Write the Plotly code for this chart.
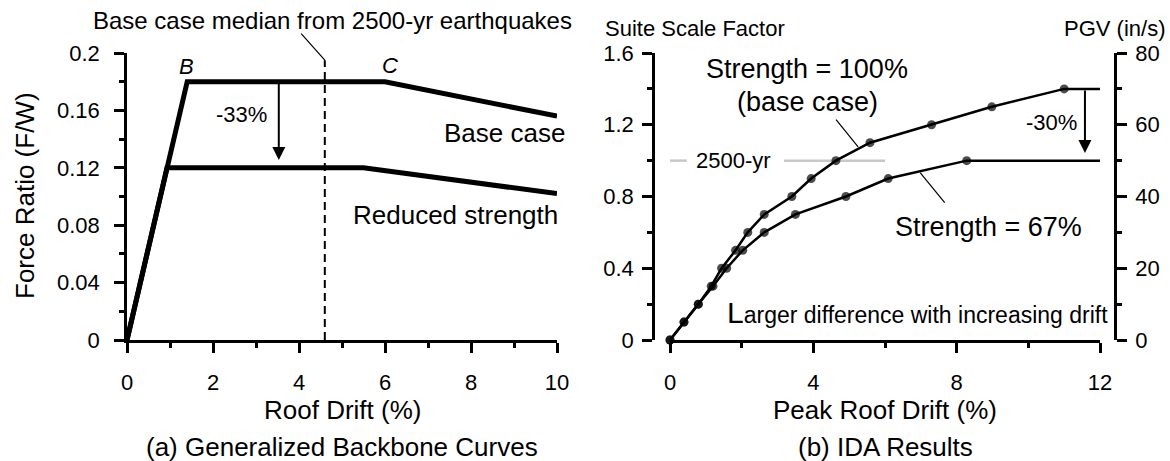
import plotly.graph_objects as go

W, H = 1170, 461
FONT = "Arial, 'Liberation Sans', sans-serif"

# ---------------- data: panel (a) backbone curves ----------------
base_drift = [0, 1.4, 6.0, 10.0]
base_force = [0, 0.18, 0.18, 0.156]
red_drift = [0, 0.93, 5.5, 10.0]
red_force = [0, 0.12, 0.12, 0.102]
median_drift = [4.6, 4.6]
median_force = [0, 0.195]

# ---------------- data: panel (b) IDA results ----------------
full_drift = [0, 0.39, 0.79, 1.15, 1.44, 1.83, 2.17, 2.63, 3.40, 3.94, 4.63, 5.58, 7.30, 8.98, 11.0, 12.0]
full_ssf = [0, 0.1, 0.2, 0.3, 0.4, 0.5, 0.6, 0.7, 0.8, 0.9, 1.0, 1.1, 1.2, 1.3, 1.4, 1.4]
red_ida_drift = [0, 0.39, 0.79, 1.2, 1.58, 2.03, 2.63, 3.5, 4.91, 6.09, 8.28, 12.0]
red_ida_ssf = [0, 0.1, 0.2, 0.3, 0.4, 0.5, 0.6, 0.7, 0.8, 0.9, 1.0, 1.0]
ref_2500_drift = [0, 0.47, None, 3.18, 6.0]
ref_2500_ssf = [1.0, 1.0, None, 1.0, 1.0]

xa_ticks = [0, 2, 4, 6, 8, 10]
ya_ticks = [0, 0.04, 0.08, 0.12, 0.16, 0.2]
xb_ticks = [0, 4, 8, 12]
yb_ticks = [0, 0.4, 0.8, 1.2, 1.6]
pgv_ticks = [0, 20, 40, 60, 80]


def px_x(p):
    return p / W


def px_y(p):
    return 1 - p / H


fig = go.Figure()

# panel (a)
fig.add_trace(go.Scatter(x=base_drift, y=base_force, mode="lines",
                         line=dict(color="black", width=5), xaxis="x", yaxis="y",
                         showlegend=False, hoverinfo="skip"))
fig.add_trace(go.Scatter(x=red_drift, y=red_force, mode="lines",
                         line=dict(color="black", width=5), xaxis="x", yaxis="y",
                         showlegend=False, hoverinfo="skip"))
fig.add_trace(go.Scatter(x=median_drift, y=median_force, mode="lines",
                         line=dict(color="black", width=2, dash="8px,5px"),
                         xaxis="x", yaxis="y", showlegend=False, hoverinfo="skip"))

# panel (b)
fig.add_trace(go.Scatter(x=ref_2500_drift, y=ref_2500_ssf, mode="lines",
                         line=dict(color="#c8c8c8", width=2.5), xaxis="x2", yaxis="y2",
                         showlegend=False, hoverinfo="skip", connectgaps=False))
fig.add_trace(go.Scatter(x=full_drift, y=full_ssf, mode="lines+markers",
                         line=dict(color="black", width=2.5),
                         marker=dict(color="black", line=dict(width=0),
                                     size=[9] * (len(full_drift) - 1) + [0]),
                         xaxis="x2", yaxis="y2", showlegend=False, cliponaxis=False,
                         hoverinfo="skip"))
fig.add_trace(go.Scatter(x=red_ida_drift, y=red_ida_ssf, mode="lines+markers",
                         line=dict(color="black", width=2.5),
                         marker=dict(color="black", line=dict(width=0),
                                     size=[9] * (len(red_ida_drift) - 1) + [0]),
                         xaxis="x2", yaxis="y2", showlegend=False, cliponaxis=False,
                         hoverinfo="skip"))
fig.add_trace(go.Scatter(x=[None], y=[None], xaxis="x2", yaxis="y3", showlegend=False))

ax_common = dict(showline=True, linecolor="black", linewidth=2.5, ticks="outside",
                 ticklen=10, tickwidth=2.5, tickcolor="black", showgrid=False,
                 zeroline=False, tickfont=dict(family=FONT, size=22, color="black"),
                 automargin=False, fixedrange=True)

ydom = [px_y(340), px_y(53)]

fig.update_layout(
    width=W, height=H,
    margin=dict(l=0, r=0, t=0, b=0),
    paper_bgcolor="white", plot_bgcolor="white",
    font=dict(family=FONT, color="black"),
    xaxis=dict(domain=[px_x(127), px_x(557)], range=[0, 10], anchor="y",
               tickvals=xa_ticks, ticklabelstandoff=11,
               minor=dict(dtick=1, ticklen=5, tickwidth=2.5, tickcolor="black",
                          ticks="outside", showgrid=False), **ax_common),
    yaxis=dict(domain=ydom, range=[0, 0.2], anchor="x",
               tickvals=ya_ticks, ticklabelstandoff=10,
               minor=dict(dtick=0.02, ticklen=5, tickwidth=2.5, tickcolor="black",
                          ticks="outside", showgrid=False), **ax_common),
    xaxis2=dict(domain=[px_x(670), px_x(1100)], range=[0, 12], anchor="y2",
                tickvals=xb_ticks, ticklabelstandoff=11,
                minor=dict(dtick=2, ticklen=5, tickwidth=2.5, tickcolor="black",
                           ticks="outside", showgrid=False), **ax_common),
    yaxis2=dict(domain=ydom, range=[0, 1.6], anchor="free", position=px_x(653),
                tickvals=yb_ticks, ticklabelstandoff=4,
                minor=dict(dtick=0.2, ticklen=5, tickwidth=2.5, tickcolor="black",
                           ticks="outside", showgrid=False), **ax_common),
    yaxis3=dict(domain=ydom, range=[0, 80], anchor="free", position=px_x(1115),
                overlaying="y2", side="right", tickvals=pgv_ticks, ticklabelstandoff=4,
                minor=dict(dtick=10, ticklen=5, tickwidth=2.5, tickcolor="black",
                           ticks="outside", showgrid=False), **ax_common),
)

ann = []


def txt(text, x, y, xref="paper", yref="paper", size=26, xanchor="center",
        yanchor="middle", italic=False, textangle=0, xshift=0):
    ann.append(dict(text=text, x=x, y=y, xref=xref, yref=yref, showarrow=False,
                    xanchor=xanchor, yanchor=yanchor, textangle=textangle, xshift=xshift,
                    font=dict(family=FONT, size=size, color="black",
                              style="italic" if italic else "normal")))


def seg(x0, y0, x1, y1, xref, yref, width=1.5, head=0, size=1.0):
    ann.append(dict(text="", x=x1, y=y1, ax=x0, ay=y0, xref=xref, yref=yref,
                    axref=xref, ayref=yref, showarrow=True, arrowhead=head,
                    arrowsize=size, arrowwidth=width, arrowcolor="black",
                    standoff=0, startstandoff=0))


# panel (a) texts
txt("Base case median from 2500-yr earthquakes", px_x(332), px_y(20), size=24)
seg(4.02, 0.2146, median_drift[1], median_force[1], "x", "y", width=1.2)
txt("B", 1.38, 0.1905, "x", "y", size=22, italic=True)
txt("C", 6.12, 0.1916, "x", "y", size=22, italic=True)
txt("-33%", 2.67, 0.157, "x", "y", size=22)
seg(3.53, 0.18, 3.53, 0.1254, "x", "y", width=2, head=2, size=1.3)
txt("Base case", 8.77, 0.144, "x", "y", size=26)
txt("Reduced strength", 7.65, 0.087, "x", "y", size=26)
txt("Force Ratio (F/W)", px_x(25), px_y(196), size=26, textangle=-90)
txt("Roof Drift (%)", px_x(342), px_y(410), size=26)
txt("(a) Generalized Backbone Curves", px_x(342), px_y(447), size=26)

# panel (b) texts
txt("Suite Scale Factor", px_x(603), px_y(29), size=22, xanchor="left")
txt("PGV (in/s)", px_x(1167), px_y(29), size=22, xanchor="right")
txt("Strength = 100%", 3.82, 1.51, "x2", "y2", size=27)
txt("(base case)", 3.85, 1.327, "x2", "y2", size=27)
seg(4.6, 1.237, 5.25, 1.076, "x2", "y2", width=1.2)
txt("Strength = 67%", 8.875, 0.63, "x2", "y2", size=27)
seg(7.70, 0.758, 6.98, 0.933, "x2", "y2", width=1.2)
txt("-30%", 10.66, 1.215, "x2", "y2", size=22)
seg(11.58, 1.4, 11.58, 1.042, "x2", "y2", width=2, head=2, size=1.3)
txt("2500-yr", 1.76, 0.998, "x2", "y2", size=22)
txt("<span style='font-size:30px'>L</span><span style='font-size:23px'>arger difference with increasing drift</span>",
    12.0, 0.156, "x2", "y2", size=23, xanchor="right", xshift=10)
txt("Peak Roof Drift (%)", px_x(885), px_y(410), size=26)
txt("(b) IDA Results", px_x(885), px_y(447), size=26)

fig.update_layout(annotations=ann)

fig.write_html("out.html")
